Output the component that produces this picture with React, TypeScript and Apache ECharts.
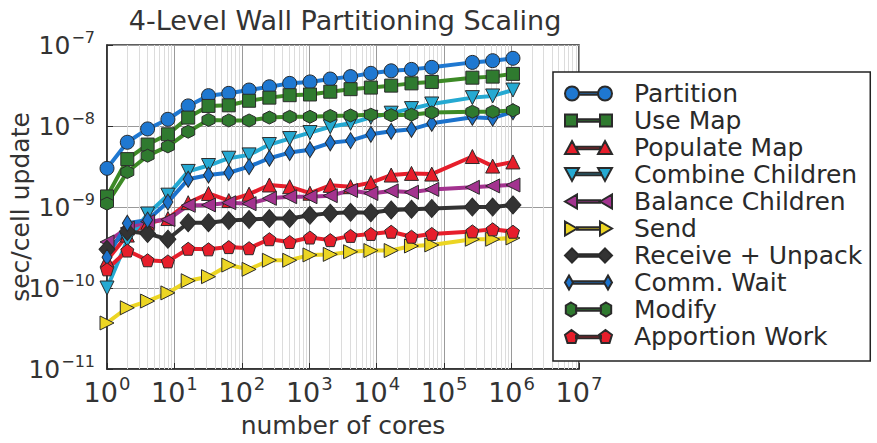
import React, { useEffect, useRef } from "react";
import * as echarts from "echarts";

const cores = [1, 2, 4, 8, 16, 32, 64, 128, 256, 512, 1024, 2048, 4096, 8192, 16384, 32768, 65536, 262144, 524288, 1048576];

const partition = [3.0e-9, 6.3e-9, 9.2e-9, 1.21e-8, 1.77e-8, 2.37e-8, 2.53e-8, 2.78e-8, 3.05e-8, 3.36e-8, 3.5e-8, 3.8e-8, 4.07e-8, 4.47e-8, 4.8e-8, 5.0e-8, 5.3e-8, 6.1e-8, 6.4e-8, 6.85e-8];
const useMap = [1.35e-9, 3.9e-9, 5.9e-9, 7.9e-9, 1.27e-8, 1.77e-8, 1.8e-8, 2.05e-8, 2.24e-8, 2.4e-8, 2.45e-8, 2.65e-8, 2.85e-8, 2.98e-8, 3.15e-8, 3.36e-8, 3.5e-8, 3.95e-8, 4.07e-8, 4.4e-8];
const populateMap = [2.2e-10, 4.5e-10, 6.3e-10, 7.2e-10, 1.13e-9, 1.47e-9, 1.2e-9, 1.44e-9, 1.87e-9, 1.78e-9, 1.48e-9, 1.85e-9, 1.78e-9, 2.0e-9, 2.48e-9, 2.6e-9, 2.55e-9, 4.2e-9, 3.2e-9, 3.6e-9];
const combineChildren = [1.0e-10, 3.9e-10, 8.2e-10, 1.4e-9, 2.75e-9, 3.25e-9, 4.0e-9, 4.4e-9, 5.9e-9, 7.0e-9, 8.3e-9, 9.8e-9, 1.08e-8, 1.28e-8, 1.44e-8, 1.64e-8, 1.87e-8, 2.24e-8, 2.35e-8, 2.78e-8];
const balanceChildren = [3.7e-10, 5.5e-10, 6.6e-10, 7.0e-10, 1.05e-9, 1.06e-9, 1.13e-9, 1.1e-9, 1.28e-9, 1.34e-9, 1.34e-9, 1.38e-9, 1.6e-9, 1.47e-9, 1.58e-9, 1.52e-9, 1.65e-9, 1.75e-9, 1.82e-9, 1.87e-9];
const send = [3.7e-11, 5.7e-11, 6.9e-11, 8.7e-11, 1.23e-10, 1.38e-10, 1.92e-10, 1.7e-10, 2.2e-10, 2.2e-10, 2.56e-10, 2.6e-10, 2.8e-10, 2.9e-10, 2.9e-10, 3.3e-10, 3.4e-10, 4.0e-10, 4.0e-10, 4.15e-10];
const receiveUnpack = [3.0e-10, 5.0e-10, 4.7e-10, 4.0e-10, 6.4e-10, 6.4e-10, 6.8e-10, 7.0e-10, 7.2e-10, 7.2e-10, 7.9e-10, 8.4e-10, 8.6e-10, 8.5e-10, 9.2e-10, 9.4e-10, 9.6e-10, 1.0e-9, 1.0e-9, 1.06e-9];
const commWait = [2.4e-10, 6.3e-10, 6.9e-10, 1.15e-9, 2.2e-9, 2.48e-9, 2.65e-9, 3.15e-9, 4.0e-9, 4.7e-9, 5.1e-9, 6.2e-9, 6.6e-9, 7.9e-9, 8.6e-9, 9.1e-9, 1.08e-8, 1.28e-8, 1.25e-8, 1.5e-8];
const modify = [1.1e-9, 2.7e-9, 4.3e-9, 5.6e-9, 8.5e-9, 1.19e-8, 1.17e-8, 1.17e-8, 1.27e-8, 1.3e-8, 1.3e-8, 1.33e-8, 1.35e-8, 1.38e-8, 1.36e-8, 1.38e-8, 1.47e-8, 1.5e-8, 1.5e-8, 1.56e-8];
const apportionWork = [1.7e-10, 2.9e-10, 2.2e-10, 2.13e-10, 3.05e-10, 3.0e-10, 3.2e-10, 3.1e-10, 4.0e-10, 3.7e-10, 4.2e-10, 3.9e-10, 4.4e-10, 4.65e-10, 4.95e-10, 4.3e-10, 4.65e-10, 5.0e-10, 5.3e-10, 4.95e-10];

const seriesNames = ["Partition", "Use Map", "Populate Map", "Combine Children", "Balance Children", "Send", "Receive + Unpack", "Comm. Wait", "Modify", "Apportion Work"];
const seriesValues = [partition, useMap, populateMap, combineChildren, balanceChildren, send, receiveUnpack, commWait, modify, apportionWork];

const xTickExps = [0, 1, 2, 3, 4, 5, 6, 7];
const yTickExps = [-11, -10, -9, -8, -7];

const FONT = "DejaVu Sans";

const HEX = "path://M7,1L12.2,4L12.2,10L7,13L1.8,10L1.8,4Z";
const PENT = "path://M7,1L13.2,5.5L10.8,12.8L3.2,12.8L0.8,5.5Z";

const styles = [
  { color: "#1f78d1", line: "#1f78d1", symbol: "circle", size: 14, rotate: 0,
    icon: "path://M0,7A7,7 0 1,0 14,7A7,7 0 1,0 0,7Z M14,5.8H33V8.2H14Z M33,7A7,7 0 1,0 47,7A7,7 0 1,0 33,7Z" },
  { color: "#2f7a2f", line: "#3d8a26", symbol: "rect", size: 13, rotate: 0,
    icon: "path://M0,1H12V13H0Z M12,5.8H35V8.2H12Z M35,1H47V13H35Z" },
  { color: "#e61e2b", line: "#e61e2b", symbol: "triangle", size: 14, rotate: 0,
    icon: "path://M7,0L14,13H0Z M12,5.8H35V8.2H12Z M40,0L47,13H33Z" },
  { color: "#25a9d2", line: "#25a9d2", symbol: "triangle", size: 14, rotate: 180,
    icon: "path://M0,1H14L7,14Z M11,5.8H36V8.2H11Z M33,1H47L40,14Z" },
  { color: "#a3338f", line: "#a3338f", symbol: "triangle", size: 14, rotate: 90,
    icon: "path://M0,7L12,0V14Z M12,5.8H35V8.2H12Z M35,7L47,0V14Z" },
  { color: "#ecd523", line: "#ecd523", symbol: "triangle", size: 14, rotate: -90,
    icon: "path://M0,0L12,7L0,14Z M12,5.8H35V8.2H12Z M35,0L47,7L35,14Z" },
  { color: "#333333", line: "#333333", symbol: "diamond", size: [16, 18], rotate: 0,
    icon: "path://M7,0L14,7L7,14L0,7Z M14,5.8H33V8.2H14Z M40,0L47,7L40,14L33,7Z" },
  { color: "#1b72cc", line: "#1b72cc", symbol: "diamond", size: [10, 16], rotate: 0,
    icon: "path://M4,0L8,7L4,14L0,7Z M8,5.8H39V8.2H8Z M43,0L47,7L43,14L39,7Z" },
  { color: "#2f7a2f", line: "#3d8a26", symbol: HEX, size: 13, rotate: 0,
    icon: "path://M6,0L11.2,3L11.2,11L6,14L0.8,11L0.8,3Z M11,5.8H36V8.2H11Z M41,0L46.2,3L46.2,11L41,14L35.8,11L35.8,3Z" },
  { color: "#e61e2b", line: "#e61e2b", symbol: PENT, size: 13, rotate: 0,
    icon: "path://M6.5,0L13,4.8L10.5,13L2.5,13L0,4.8Z M11,5.8H36V8.2H11Z M40.5,0L47,4.8L44.5,13L36.5,13L34,4.8Z" },
];

const supFmt = (v: number) => {
  const e = Math.round(Math.log10(v));
  return "{b|10}{s|" + String(e).replace("-", "\u2212") + "}";
};

export default function App() {
  const ref = useRef<HTMLDivElement>(null);
  useEffect(() => {
    if (!ref.current) return;
    const chart = echarts.init(ref.current, undefined, { renderer: "svg" });

    const minorX: any[] = [];
    for (let k = xTickExps[0]; k < xTickExps[xTickExps.length - 1]; k++) {
      for (let m = 2; m <= 9; m++) minorX.push({ xAxis: m * Math.pow(10, k) });
    }
    const minorY: any[] = [];
    for (let k = yTickExps[0]; k < yTickExps[yTickExps.length - 1]; k++) {
      for (let m = 2; m <= 9; m++) minorY.push({ yAxis: m * Math.pow(10, k) });
    }

    const series: any[] = seriesNames.map((name, i) => {
      const st = styles[i];
      const s: any = {
        name,
        type: "line",
        data: cores.map((c, j) => [c, seriesValues[i][j]]),
        symbol: st.symbol,
        symbolSize: st.size,
        symbolRotate: st.rotate,
        showSymbol: true,
        lineStyle: { color: st.line, width: 4 },
        itemStyle: { color: st.color, borderColor: "#2a2a2a", borderWidth: 1 },
        emphasis: { disabled: true },
        z: 3,
      };
      if (i === 0) {
        s.markLine = {
          silent: true,
          symbol: "none",
          z: 1,
          label: { show: false },
          lineStyle: { color: "#dcdcdc", width: 1, type: "solid" },
          emphasis: { disabled: true },
          data: [...minorX, ...minorY],
        };
      }
      return s;
    });

    const rich = {
      b: { fontSize: 27, fontFamily: FONT, color: "#333" },
      s: { fontSize: 18, fontFamily: FONT, color: "#333", padding: [0, 0, 18, 1] },
    };
    const richY = {
      b: { fontSize: 25, fontFamily: FONT, color: "#333" },
      s: { fontSize: 16, fontFamily: FONT, color: "#333", padding: [0, 0, 16, 1] },
    };

    chart.setOption({
      animation: false,
      backgroundColor: "#fff",
      title: {
        text: "4-Level Wall Partitioning Scaling",
        left: 340,
        top: 2,
        textAlign: "center",
        textStyle: { fontFamily: FONT, fontSize: 27, fontWeight: "normal", color: "#333" },
      },
      grid: {
        left: 107,
        right: 298,
        top: 45,
        bottom: 74,
        show: true,
        borderColor: "#2a2a2a",
        borderWidth: 1.5,
        backgroundColor: "transparent",
        containLabel: false,
        outerBoundsMode: "none",
      },
      legend: {
        orient: "vertical",
        left: 553,
        top: 72,
        height: 300,
        itemWidth: 47,
        itemHeight: 14,
        itemGap: 0,
        padding: [8, 8, 11, 11],
        borderColor: "#222",
        borderWidth: 1.5,
        backgroundColor: "#fff",
        selectedMode: false,
        symbolRotate: 0,
        textStyle: { fontFamily: FONT, fontSize: 25, lineHeight: 27, color: "#2a2a2a", padding: [0, 0, 0, 17] },
        data: seriesNames.map((n, i) => ({ name: n, icon: styles[i].icon })),
        z: 10,
      },
      xAxis: {
        type: "log",
        logBase: 10,
        min: Math.pow(10, xTickExps[0]),
        max: Math.pow(10, xTickExps[xTickExps.length - 1]),
        name: "number of cores",
        nameLocation: "middle",
        nameGap: 44,
        nameMoveOverlap: false,
        nameTextStyle: { fontFamily: FONT, fontSize: 25, color: "#333" },
        axisLine: { show: true, lineStyle: { color: "#2a2a2a", width: 1.5 } },
        axisTick: { show: true, inside: true, length: 6, lineStyle: { color: "#2a2a2a" } },
        axisLabel: { formatter: supFmt, rich, margin: 5 },
        splitLine: { show: true, lineStyle: { color: "#9a9a9a", width: 1 } },
      },
      yAxis: {
        type: "log",
        logBase: 10,
        min: Math.pow(10, yTickExps[0]),
        max: Math.pow(10, yTickExps[yTickExps.length - 1]),
        name: "sec/cell update",
        nameLocation: "middle",
        nameGap: 74,
        nameMoveOverlap: false,
        nameTextStyle: { fontFamily: FONT, fontSize: 25, color: "#333" },
        axisLine: { show: true, lineStyle: { color: "#2a2a2a", width: 1.5 } },
        axisTick: { show: true, inside: true, length: 6, lineStyle: { color: "#2a2a2a" } },
        axisLabel: { formatter: supFmt, rich: richY, margin: 12 },
        splitLine: { show: true, lineStyle: { color: "#9a9a9a", width: 1 } },
      },
      series,
    });
    return () => chart.dispose();
  }, []);
  return (
    <div
      ref={ref}
      style={{ position: "fixed", left: 0, top: 0, width: 877, height: 443, background: "#fff" }}
    />
  );
}
